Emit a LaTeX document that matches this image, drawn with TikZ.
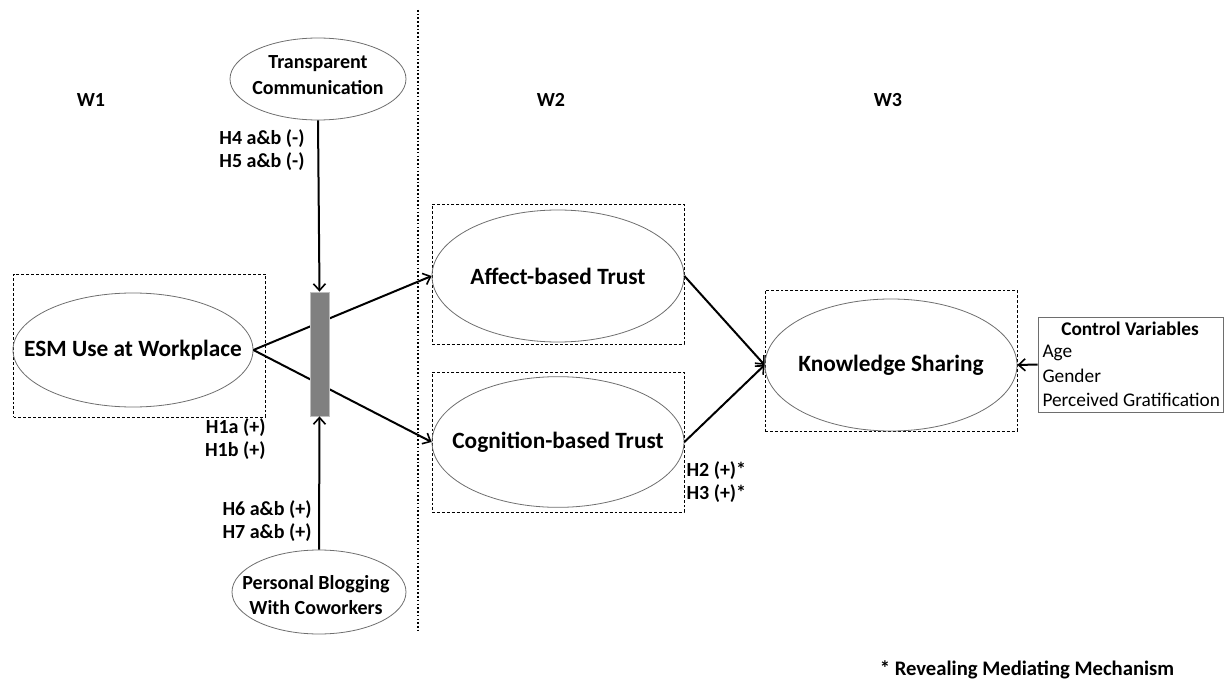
\documentclass[tikz,border=0pt]{standalone}
\usepackage{fontspec}
\setmainfont{Carlito}
\usetikzlibrary{shapes.geometric,arrows.meta}

\tikzset{every picture/.style={line width=0.75pt}}
\tikzset{
  construct/.style={ellipse,draw={rgb,255:red,110;green,110;blue,110},line width=0.6pt,inner sep=0pt},
  bigtext/.style={inner sep=0pt,font=\bfseries\fontsize{17.5}{20}\selectfont},
  modtext/.style={inner sep=0pt,align=center,font=\bfseries\fontsize{15}{19}\selectfont},
  wavebox/.style={draw,dashed,dash pattern={on 2.2pt off 1.5pt},line width=0.5pt,inner sep=0pt},
  hyp/.style={font=\bfseries\fontsize{15}{17}\selectfont,inner sep=0pt},
  ctrlitem/.style={anchor=west,inner sep=0pt,font=\fontsize{14.5}{17}\selectfont},
  path/.style={line width=1.5pt,-{Straight Barb[length=5pt,width=9pt,line width=1.2pt]}},
}

\begin{document}
\begin{tikzpicture}[x=0.75pt,y=0.75pt,yscale=-1,xscale=1]
	\useasboundingbox (0,0) rectangle (1225,681);

	%Wave divider
	\draw [line width=1.5pt,dash pattern={on 1.2pt off 1.6pt}] (418,10) -- (418,633) ;

	%Dashed wave boxes
	\node [wavebox,minimum width=189pt,minimum height=107.25pt] (esmbox) at (139.5,345.5) {};
	\node [wavebox,minimum width=189pt,minimum height=105pt] (affbox) at (558,274) {};
	\node [wavebox,minimum width=189pt,minimum height=105pt] (cogbox) at (558,442) {};
	\node [wavebox,minimum width=189pt,minimum height=105.75pt] (knowbox) at (891,360.5) {};

	%Constructs
	\node [construct,minimum width=180pt,minimum height=85.5pt] (esm) at (133,350) {};
	\node [bigtext] (esmtext) at (esm) {ESM Use at Workplace};
	\node [construct,minimum width=189pt,minimum height=99pt] (affect) at (558,276) {};
	\node [bigtext] (affecttext) at (affect) {Affect-based Trust};
	\node [construct,minimum width=189pt,minimum height=98pt] (cog) at (558,442) {};
	\node [bigtext] (cogtext) at (cog) {Cognition-based Trust};
	\node [construct,minimum width=189pt,minimum height=99pt] (know) at (891,365) {};
	\node [bigtext] (knowtext) at (know) {Knowledge Sharing};

	%Moderators
	\node [construct,minimum width=132pt,minimum height=61.5pt] (transp) at (318,79) {};
	\node [modtext] (transptext) at (318,75) {Transparent\\Communication};
	\node [construct,minimum width=130.5pt,minimum height=63pt] (blog) at (319,592) {};
	\node [modtext] (blogtext) at (316,595) {Personal Blogging\\With Coworkers};

	%Paths
	\draw [path] (esm.east) -- (affect.west) ;
	\draw [path] (esm.east) -- (cog.west) ;
	\draw [path] (affect.east) -- (know.west) ;
	\draw [path] (cog.east) -- (know.west) ;

	%Moderation bar
	\node [rectangle,fill={rgb,255:red,128;green,128;blue,128},draw={rgb,255:red,190;green,190;blue,190},line width=0.6pt,minimum width=14.25pt,minimum height=93pt,inner sep=0pt] (bar) at (319.5,354) {};
	\draw [path] (transp.south) -- (bar.north) ;
	\draw [path] (blog.north) -- (bar.south) ;

	%Control variables
	\node [draw={rgb,255:red,110;green,110;blue,110},line width=0.6pt,minimum width=138.75pt,minimum height=71.25pt,inner sep=0pt] (ctrl) at (1130.5,364.5) {};
	\draw [path] (ctrl.west) -- (know.east) ;
	% Text Node
	\node [hyp,font=\bfseries\fontsize{14.5}{17}\selectfont] (ctrltitle) at (1130,329) {Control Variables};
	% Text Node
	\node [ctrlitem] (age) at (1042,353) {Age};
	% Text Node
	\node [ctrlitem] (gender) at (1042,376) {Gender};
	% Text Node
	\node [ctrlitem] (gratif) at (1042,400) {Perceived Gratification};

	% Text Node
	\node [hyp] (w1) at (91,100) {W1};
	% Text Node
	\node [hyp] (w2) at (551,100) {W2};
	% Text Node
	\node [hyp] (w3) at (888,100) {W3};

	% Text Node
	\node [hyp,anchor=east] (h4) at (305,139) {H4 a\&b (-)};
	% Text Node
	\node [hyp,anchor=east] (h5) at (305,162) {H5 a\&b (-)};
	% Text Node
	\node [hyp,anchor=east] (h1a) at (266,428) {H1a (+)};
	% Text Node
	\node [hyp,anchor=east] (h1b) at (266,451) {H1b (+)};
	% Text Node
	\node [hyp,anchor=east] (h6) at (312,510) {H6 a\&b (+)};
	% Text Node
	\node [hyp,anchor=east] (h7) at (312,533) {H7 a\&b (+)};
	% Text Node
	\node [hyp,anchor=west] (h2) at (686,471) {H2 (+)*};
	% Text Node
	\node [hyp,anchor=west] (h3) at (686,494) {H3 (+)*};

	% Text Node
	\node [font=\bfseries\fontsize{15.5}{18}\selectfont,inner sep=0pt] (note) at (1027,670) {* Revealing Mediating Mechanism};

\end{tikzpicture}
\end{document}
